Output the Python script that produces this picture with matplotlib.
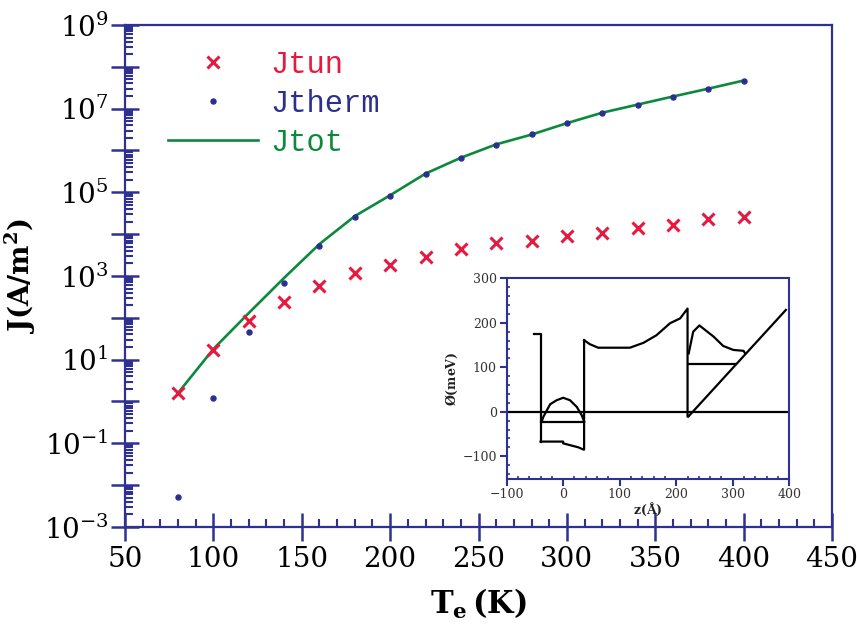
"""Tunnelling / thermionic current vs electron temperature, with band-profile inset."""

import matplotlib

matplotlib.use("Agg")
import matplotlib.pyplot as plt
import numpy as np
from matplotlib.lines import Line2D
from matplotlib.ticker import FixedLocator, FuncFormatter, MultipleLocator

NAVY = "#2e3192"
RED = "#e8193f"
BLUE = "#2b2f8f"
GREEN = "#0b8a3e"

# main data
temperature = [80, 100, 120, 140, 160, 180, 200, 220, 240, 260, 280, 300, 320, 340, 360, 380, 400]
j_tun = [1.57, 17, 85, 235, 580, 1200, 1830, 2900, 4350, 6000, 6950, 9100, 10500, 14200,
         16500, 22600, 25000]
j_therm = [0.0051, 1.19, 46, 670, 5200, 25700, 83000, 2.8e5, 6.7e5, 1.37e6, 2.43e6, 4.5e6,
           8.0e6, 1.25e7, 1.94e7, 3.0e7, 4.66e7]
j_tot = [1.6, 18, 130, 900, 5800, 27000, 85000, 2.8e5, 6.7e5, 1.4e6, 2.4e6, 4.5e6, 8.0e6,
         1.25e7, 1.95e7, 3.0e7, 4.7e7]

# inset: potential profile pieces (z in Angstrom, phi in meV)
left_barrier_z = [-52, -40, -40]
left_barrier_phi = [174, 174, -68]
well_bottom_z = [-40, -20, -15, 0, 0, 12, 27, 36, 37, 37]
well_bottom_phi = [-67, -67, -67, -67, -71, -75, -80, -85, -85, 161]
plateau_z = [37, 47, 62, 118, 142, 165, 189, 207, 220, 220, 222]
plateau_phi = [161, 152, 144, 144, 155, 172, 199, 210, 232, -11, -10]
ramp_z = [222, 394]
ramp_phi = [-10, 229]
hump_z = [222, 230, 241, 266, 283, 301, 319, 322]
hump_phi = [131, 180, 194, 169, 148, 139, 137, 131]
level_right_z = [220, 304]
level_right_phi = [107, 107]
well_hump_z = [-38, -35, -23, -11.5, 0, 12, 24, 32.7, 37]
well_hump_phi = [-22, -11, 17, 26, 31.5, 26, 11, -7.5, -22]
level_left_z = [-40, 37]
level_left_phi = [-22, -22]
zero_z = [-100, 400]
zero_phi = [0, 0]

plt.rcParams["font.family"] = "DejaVu Serif"
plt.rcParams["mathtext.fontset"] = "custom"
plt.rcParams["mathtext.rm"] = "DejaVu Serif"
plt.rcParams["mathtext.bf"] = "DejaVu Serif:bold"

fig = plt.figure(figsize=(8.57, 6.37), dpi=100)
ax = fig.add_axes([0.1459, 0.1727, 0.8250, 0.7881])

ax.plot(temperature, j_tot, color=GREEN, lw=1.9, zorder=2)
ax.plot(temperature, j_tun, ls="none", marker="x", ms=8.5, mew=2.2, color=RED, zorder=3)
ax.plot(temperature, j_therm, ls="none", marker="o", ms=3.6, color=BLUE, zorder=4)

ax.set_yscale("log")
ax.set_xlim(50, 450)
ax.set_ylim(1e-3, 1e9)
ax.xaxis.set_major_locator(MultipleLocator(50))
ax.xaxis.set_minor_locator(MultipleLocator(10))
decades = np.arange(-3, 10)
ax.yaxis.set_major_locator(FixedLocator(10.0 ** decades))
ax.yaxis.set_minor_locator(FixedLocator(
    [s * 10.0 ** d for d in decades[:-1] for s in range(2, 10)]))


def decade_label(v, pos):
    e = int(round(np.log10(v)))
    if e % 2 == 0:
        return ""
    return r"$\mathregular{10^{%d}}$" % e


ax.yaxis.set_major_formatter(FuncFormatter(decade_label))
ax.yaxis.set_minor_formatter(FuncFormatter(lambda v, p: ""))

for side in ("left", "bottom", "right", "top"):
    ax.spines[side].set_color(NAVY)
    ax.spines[side].set_linewidth(1.6)
ax.tick_params(which="major", direction="inout", length=20, width=1.8, color=NAVY,
               labelsize=20, top=False, right=False)
ax.tick_params(which="minor", direction="in", length=6, width=1.5, color=NAVY,
               top=False, right=False)
ax.tick_params(axis="x", which="major", pad=4)
ax.tick_params(axis="y", which="major", pad=2)

ax.set_ylabel(r"$\mathbf{J(A/m^2)}$", fontsize=20, labelpad=4)
ax.set_xlabel(r"$\mathbf{T_e\,(K)}$", fontsize=22, labelpad=10)

handles = [
    Line2D([], [], ls="none", marker="x", ms=8.5, mew=2.2, color=RED),
    Line2D([], [], ls="none", marker="o", ms=3.6, color=BLUE),
    Line2D([], [], color=GREEN, lw=1.9),
]
leg = ax.legend(handles, ["Jtun", "Jtherm", "Jtot"], loc="upper left",
                bbox_to_anchor=(0.061, 0.95), frameon=False, handlelength=2.95,
                handletextpad=0.38, labelspacing=0.29, borderpad=0, borderaxespad=0,
                prop={"family": "Liberation Mono", "size": 22},
                labelcolor=[RED, BLUE, GREEN])

# inset
ins = fig.add_axes([0.5912, 0.2488, 0.3298, 0.3143])
for z, phi in [
    (left_barrier_z, left_barrier_phi),
    (well_bottom_z, well_bottom_phi),
    (plateau_z, plateau_phi),
    (ramp_z, ramp_phi),
    (hump_z, hump_phi),
    (level_right_z, level_right_phi),
    (well_hump_z, well_hump_phi),
    (level_left_z, level_left_phi),
    (zero_z, zero_phi),
]:
    ins.plot(z, phi, color="black", lw=1.6)

ins.set_xlim(-100, 400)
ins.set_ylim(-150, 300)
ins.xaxis.set_major_locator(MultipleLocator(100))
ins.xaxis.set_minor_locator(MultipleLocator(20))
ins.yaxis.set_major_locator(MultipleLocator(100))
ins.yaxis.set_minor_locator(MultipleLocator(20))
for side in ("left", "bottom", "right", "top"):
    ins.spines[side].set_color(NAVY)
    ins.spines[side].set_linewidth(1.5)
ins.tick_params(which="major", direction="out", length=5, width=1.5, color=NAVY,
                labelsize=9, labelcolor="#333333", pad=2)
ins.tick_params(which="minor", direction="in", length=2, width=1.2, color=NAVY)
ins.set_ylabel(r"$\mathbf{\O(meV)}$", fontsize=9, color="#222222", labelpad=2)
ins.set_xlabel(r"$\mathbf{z(\AA)}$", fontsize=9, color="#222222", labelpad=0)

fig.savefig("out.png", dpi=100)
